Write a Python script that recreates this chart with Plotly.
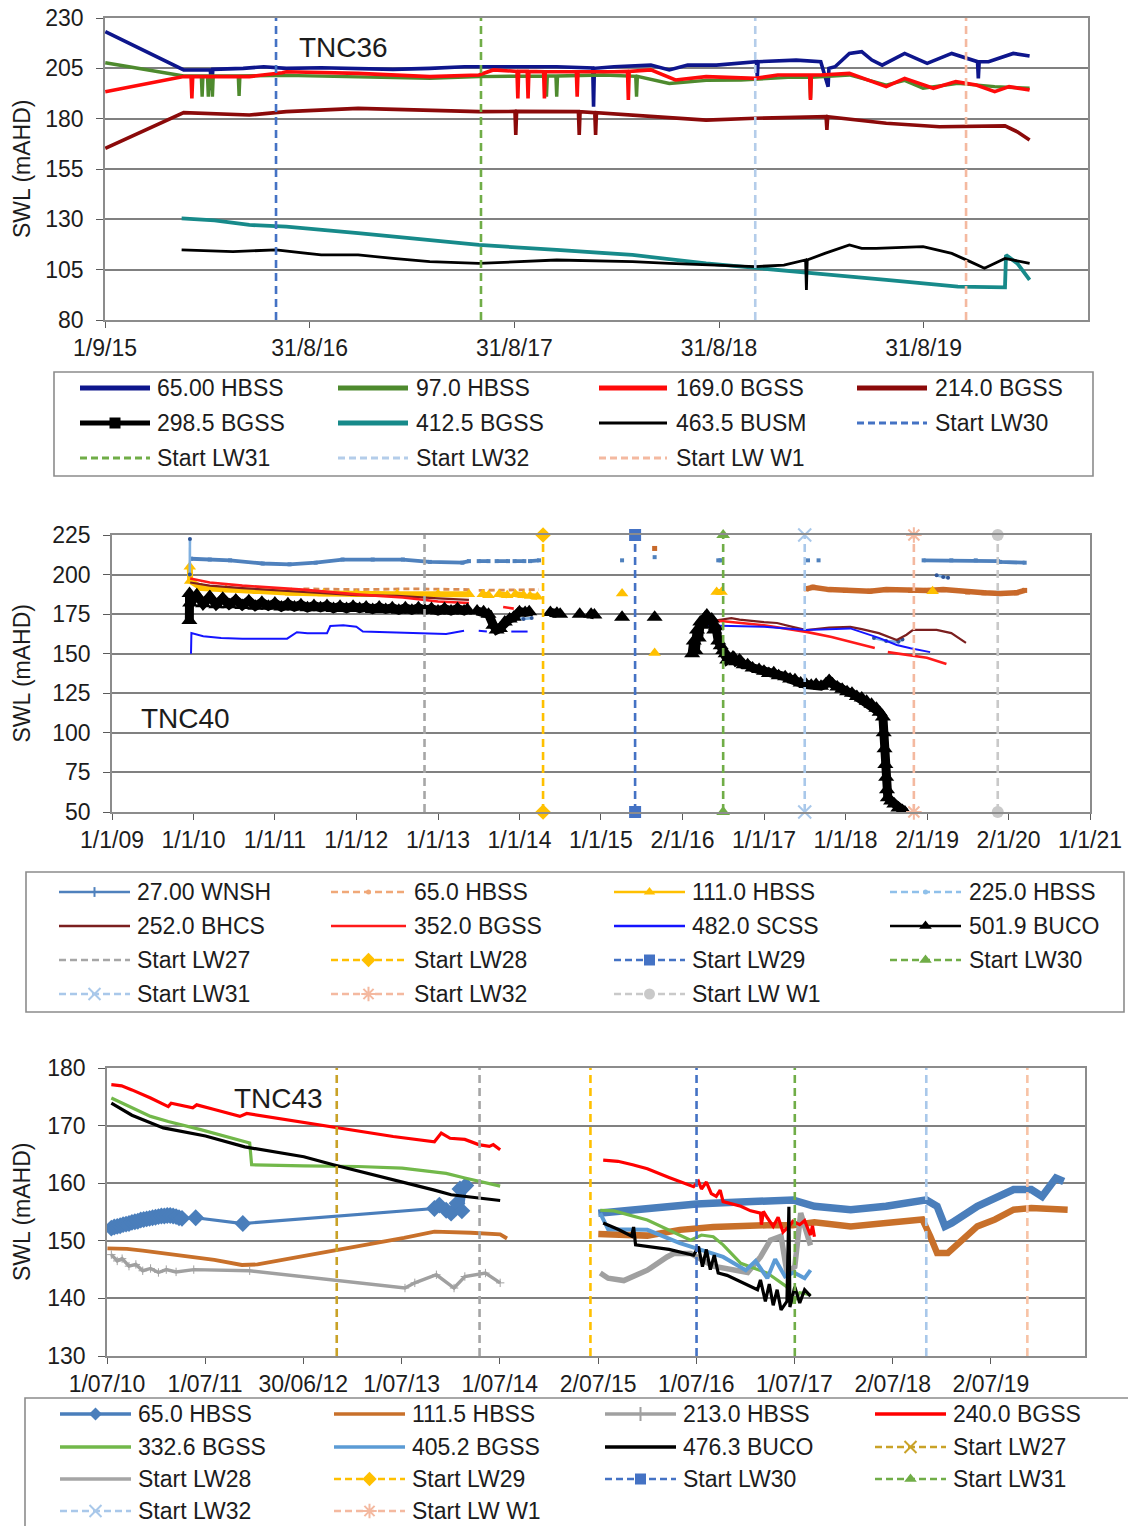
import plotly.graph_objects as go
from datetime import datetime

W, H = 1128, 1526
FONT = "Liberation Sans, Arial, Helvetica, sans-serif"
INK = "#1c1c1c"
GRID = "#808080"
FRAME = "#8c8c8c"
TICK = "#5a5a5a"
LW_DASH = "8px,5px"

# ---------------------------------------------------------------------------
# Longwall start dates (decimal years)
# ---------------------------------------------------------------------------
LW27, LW28, LW29, LW30, LW31, LW32, LWW1 = 2012.835, 2014.29, 2015.42, 2016.50, 2017.50, 2018.84, 2019.87

# ---------------------------------------------------------------------------
# TNC36 : (decimal year, SWL mAHD)
# ---------------------------------------------------------------------------
TNC36_XTICKS = ["2015-09-01", "2016-08-31", "2017-08-31", "2018-08-31", "2019-08-31"]
TNC36_XLABELS = ["1/9/15", "31/8/16", "31/8/17", "31/8/18", "31/8/19"]

TNC36_HBSS65 = [(2015.667, 223.2), (2016.05, 204.2), (2016.18, 204.2), (2016.186, 194.2), (2016.192, 204.5),
                (2016.34, 205.0), (2016.44, 205.8), (2016.55, 205.0), (2016.72, 205.3), (2016.90, 205.0),
                (2017.07, 204.5), (2017.25, 205.0), (2017.42, 205.8), (2017.60, 205.8), (2017.87, 205.8),
                (2018.046, 205.2), (2018.05, 186.0), (2018.054, 205.0), (2018.15, 205.8), (2018.33, 206.6),
                (2018.42, 204.2), (2018.51, 206.6), (2018.65, 206.6), (2018.846, 208.3), (2018.85, 200.9),
                (2018.854, 208.3), (2019.04, 209.1), (2019.16, 208.3), (2019.196, 195.9), (2019.20, 205.0),
                (2019.23, 205.8), (2019.30, 212.4), (2019.36, 213.3), (2019.41, 209.1), (2019.46, 206.6),
                (2019.57, 212.4), (2019.68, 207.5), (2019.80, 212.4), (2019.87, 210.0), (2019.926, 208.3),
                (2019.93, 200.0), (2019.934, 208.3), (2019.98, 208.3), (2020.10, 212.4), (2020.18, 211.1)]

TNC36_HBSS97 = [(2015.667, 207.8), (2016.05, 201.2), (2016.136, 201.2), (2016.14, 190.9), (2016.144, 201.2),
                (2016.166, 201.2), (2016.17, 190.9), (2016.174, 201.2), (2016.186, 201.2), (2016.19, 190.9),
                (2016.194, 201.2), (2016.316, 201.2), (2016.32, 191.3), (2016.324, 201.2), (2016.55, 201.5),
                (2016.90, 200.9), (2017.25, 200.0), (2017.49, 200.9), (2017.816, 201.2), (2017.82, 190.9),
                (2017.824, 201.2), (2017.866, 201.2), (2017.87, 190.9), (2017.874, 201.2), (2018.10, 201.7),
                (2018.256, 201.0), (2018.26, 190.9), (2018.264, 201.0), (2018.42, 197.5), (2018.60, 199.0),
                (2018.77, 199.2), (2019.00, 200.5), (2019.106, 200.5), (2019.11, 190.1), (2019.114, 200.5),
                (2019.30, 201.7), (2019.48, 196.7), (2019.57, 199.0), (2019.66, 195.1), (2019.83, 197.5),
                (2020.01, 195.9), (2020.18, 195.1)]

TNC36_BGSS169 = [(2015.667, 193.4), (2016.05, 200.9), (2016.086, 200.9), (2016.09, 190.1), (2016.094, 200.9),
                 (2016.37, 200.9), (2016.53, 202.8), (2016.55, 203.3), (2016.90, 202.5), (2017.25, 200.9),
                 (2017.49, 201.7), (2017.56, 204.2), (2017.676, 203.5), (2017.68, 190.1), (2017.684, 203.5),
                 (2017.726, 203.5), (2017.73, 190.1), (2017.734, 203.5), (2017.806, 203.3), (2017.81, 190.1),
                 (2017.814, 203.3), (2017.87, 203.3), (2017.966, 203.3), (2017.97, 190.9), (2017.974, 203.3),
                 (2018.15, 203.3), (2018.216, 203.5), (2018.22, 189.3), (2018.224, 203.5), (2018.33, 204.2),
                 (2018.45, 199.2), (2018.60, 200.9), (2018.84, 200.0), (2018.95, 201.7), (2019.106, 201.7),
                 (2019.11, 189.3), (2019.114, 201.7), (2019.16, 201.7), (2019.30, 202.5), (2019.48, 195.9),
                 (2019.57, 200.0), (2019.71, 195.1), (2019.82, 198.4), (2019.92, 196.7), (2020.01, 193.4),
                 (2020.08, 195.9), (2020.18, 194.2)]

TNC36_BGSS214 = [(2015.667, 165.3), (2016.05, 183.0), (2016.37, 181.8), (2016.55, 183.5), (2016.90, 185.1),
                 (2017.25, 184.3), (2017.49, 183.5), (2017.666, 183.6), (2017.67, 171.9), (2017.674, 183.6),
                 (2017.87, 183.8), (2017.976, 183.5), (2017.98, 171.9), (2017.984, 183.5), (2018.056, 183.0),
                 (2018.06, 171.9), (2018.064, 183.0), (2018.24, 181.8), (2018.60, 179.3), (2018.84, 180.2),
                 (2019.186, 181.0), (2019.19, 174.4), (2019.194, 181.0), (2019.48, 177.7), (2019.74, 176.0),
                 (2020.06, 176.4), (2020.12, 173.5), (2020.18, 169.4)]

TNC36_BGSS412 = [(2016.04, 130.5), (2016.20, 129.5), (2016.37, 127.2), (2016.55, 126.4), (2016.90, 123.1),
                 (2017.25, 119.7), (2017.49, 117.3), (2017.87, 114.8), (2018.24, 112.3), (2018.60, 108.1),
                 (2018.84, 105.7), (2019.13, 103.2), (2019.48, 99.9), (2019.83, 96.6), (2020.06, 96.2),
                 (2020.065, 112.3), (2020.12, 108.1), (2020.18, 99.9)]

TNC36_BUSM463 = [(2016.04, 114.8), (2016.29, 114.0), (2016.50, 114.8), (2016.72, 112.3), (2016.90, 112.3),
                 (2017.00, 111.5), (2017.07, 110.6), (2017.25, 109.0), (2017.49, 108.1), (2017.87, 109.8),
                 (2018.24, 109.0), (2018.42, 108.1), (2018.60, 107.3), (2018.84, 106.5), (2018.98, 107.3),
                 (2019.086, 109.8), (2019.09, 94.9), (2019.094, 109.8), (2019.18, 113.1), (2019.30, 117.3),
                 (2019.36, 115.6), (2019.43, 115.6), (2019.66, 116.4), (2019.80, 113.1), (2019.89, 109.0),
                 (2019.96, 105.7), (2020.06, 110.6), (2020.18, 108.1)]

# ---------------------------------------------------------------------------
# TNC40
# ---------------------------------------------------------------------------
TNC40_XTICKS = ["2009-01-01", "2010-01-01", "2011-01-01", "2012-01-01", "2013-01-01", "2014-01-01", "2015-01-01",
                "2016-01-02", "2017-01-01", "2018-01-01", "2019-01-02", "2020-01-02", "2021-01-01"]
TNC40_XLABELS = ["1/1/09", "1/1/10", "1/1/11", "1/1/12", "1/1/13", "1/1/14", "1/1/15",
                 "2/1/16", "1/1/17", "1/1/18", "2/1/19", "2/1/20", "1/1/21"]

TNC40_WNSH27 = [(2009.97, 210.0), (2010.2, 209.5), (2010.45, 209.0), (2010.85, 207.0), (2011.18, 206.5),
                (2011.5, 207.5), (2011.83, 209.5), (2012.2, 209.5), (2012.57, 209.5), (2012.9, 208.0), (2013.3, 207.5),
                (2013.38, 208.5), None,
                (2013.5, 208.5), (2013.62, 208.5), None, (2013.72, 208.5), (2013.86, 208.5), None,
                (2013.94, 208.5), (2014.06, 208.5), None, (2014.13, 208.5), (2014.24, 209.0), None,
                (2015.26, 209.0), None, (2015.66, 211.0), None, (2016.44, 209.0), (2016.48, 209.0), None,
                (2017.54, 209.0), None, (2017.67, 209.0), None,
                (2018.96, 209.0), (2019.3, 209.0), (2019.6, 209.0), (2019.87, 208.5), (2019.9, 208.0), (2020.2, 207.5)]

TNC40_HBSS65_EARLY = [(2011.35, 191.0), (2012.0, 190.5), (2012.7, 191.0), (2013.4, 190.5), None,
                      (2013.5, 190.0), (2014.24, 190.5)]
TNC40_HBSS65_LATE = [(2015.66, 216.5), None,
                     (2017.52, 191.0), (2017.6, 192.0), (2017.8, 190.5), (2018.0, 190.0), (2018.3, 189.5),
                     (2018.5, 190.5), (2018.8, 190.0), (2019.0, 190.0), (2019.2, 190.5), (2019.5, 189.0),
                     (2019.7, 188.5), (2019.9, 188.0), (2020.1, 188.5), (2020.2, 190.0)]

TNC40_HBSS111 = [(2009.955, 205.0), (2009.96, 196.0), (2010.1, 191.5), (2010.4, 190.5), (2010.8, 189.5),
                 (2011.2, 188.5), (2011.6, 188.0), (2012.0, 187.5), (2012.5, 187.5), (2013.0, 187.5),
                 (2013.38, 187.5), None, (2013.55, 187.5), (2013.62, 187.0), None, (2013.75, 187.5),
                 (2013.85, 187.0), None, (2013.95, 187.5), (2014.05, 187.0), None, (2014.13, 186.5),
                 (2014.22, 186.0), None, (2015.26, 188.0), None, (2015.66, 150.5), None,
                 (2016.42, 189.0), (2016.48, 189.0), None, (2019.07, 189.5)]

TNC40_HBSS225 = [(2009.955, 200.0), (2009.957, 222.5), None, (2013.95, 172.5), (2014.05, 172.0),
                 (2014.15, 172.5), None, (2018.35, 160.0), (2018.5, 158.0), (2018.65, 157.5), (2018.7, 159.0), None,
                 (2019.12, 199.5), (2019.2, 198.5), (2019.26, 198.0)]

TNC40_BHCS252 = [(2009.96, 195.0), (2010.2, 193.0), (2010.6, 191.5), (2011.0, 190.0), (2011.5, 188.5),
                 (2012.0, 187.0), (2012.5, 186.5), (2013.0, 185.0), (2013.38, 184.0), None,
                 (2016.19, 171.0), (2016.4, 171.0), (2016.6, 172.5), (2016.7, 171.5), (2017.0, 170.0),
                 (2017.16, 169.4), (2017.35, 167.0), (2017.52, 165.0), (2017.8, 166.5), (2018.06, 167.0),
                 (2018.2, 165.5), (2018.41, 163.0), (2018.63, 158.7), (2018.75, 162.0), (2018.83, 165.0),
                 (2019.12, 165.0), (2019.3, 163.0), (2019.48, 156.8)]

TNC40_BGSS352 = [(2009.96, 197.5), (2010.2, 195.0), (2010.6, 193.0), (2011.0, 191.5), (2011.34, 190.5),
                 (2012.0, 187.5), (2012.57, 185.5), (2013.0, 183.0), (2013.38, 182.0), None,
                 (2013.8, 179.5), (2013.93, 178.5), None,
                 (2016.19, 171.0), (2016.5, 170.5), (2017.0, 168.0), (2017.52, 163.8), (2017.83, 160.6),
                 (2018.1, 157.0), (2018.36, 153.6), None,
                 (2018.52, 151.0), (2018.8, 149.0), (2019.0, 147.5), (2019.24, 143.5)]

TNC40_SCSS482 = [(2009.97, 150.0), (2009.975, 163.0), (2010.12, 161.0), (2010.34, 160.0), (2010.6, 159.5),
                 (2011.0, 159.3), (2011.15, 159.5), (2011.27, 163.6), (2011.4, 163.0), (2011.64, 163.0),
                 (2011.68, 167.5), (2011.84, 168.0), (2012.0, 167.0), (2012.08, 164.0), (2012.37, 163.5),
                 (2012.89, 162.5), (2013.1, 162.5), (2013.32, 164.5), None, (2013.5, 164.5), (2013.6, 164.0), None,
                 (2013.9, 164.0), (2014.1, 164.0), None, (2014.91, 164.0), None,
                 (2016.19, 168.0), (2016.6, 167.5), (2017.0, 167.0), (2017.52, 165.0), (2018.06, 166.0),
                 (2018.41, 160.0), (2018.63, 155.5), (2018.8, 153.5), (2019.04, 151.0)]

TNC40_BUCO501 = [(2009.95, 171.0), (2009.952, 188.0), (2009.96, 182.0),
                 (2010.04, 187.0), (2010.12, 181.5), (2010.20, 186.0), (2010.28, 181.0), (2010.36, 185.0),
                 (2010.44, 181.0), (2010.52, 184.0), (2010.60, 180.5), (2010.68, 183.5), (2010.76, 180.0),
                 (2010.84, 182.5), (2010.92, 180.0), (2011.00, 182.0), (2011.08, 179.5), (2011.16, 181.5),
                 (2011.24, 179.5), (2011.32, 181.0), (2011.40, 179.0), (2011.48, 180.5), (2011.56, 179.0),
                 (2011.64, 180.5), (2011.72, 178.5), (2011.80, 180.0), (2011.88, 178.5), (2011.96, 180.0),
                 (2012.04, 178.5), (2012.12, 179.5), (2012.20, 178.0), (2012.28, 179.5), (2012.36, 178.0),
                 (2012.44, 179.0), (2012.52, 177.5), (2012.60, 179.0), (2012.68, 177.5), (2012.76, 179.0),
                 (2012.84, 177.5), (2012.92, 178.5), (2013.00, 177.0), (2013.08, 178.5), (2013.16, 177.0),
                 (2013.24, 178.5), (2013.32, 177.0), (2013.36, 178.0), None,
                 (2013.48, 177.0), (2013.56, 176.5), (2013.62, 175.0), (2013.68, 168.0), (2013.72, 165.0),
                 (2013.76, 166.0), (2013.82, 170.0), (2013.88, 172.0), (2013.93, 173.0), (2014.0, 176.5),
                 (2014.07, 176.0), (2014.12, 176.5), None, (2014.38, 176.0), (2014.46, 175.5), None,
                 (2014.5, 175.0), None, (2014.74, 175.0), None,
                 (2014.88, 175.0), (2014.92, 174.5), None, (2015.26, 173.0), None, (2015.66, 173.0), None,
                 (2016.12, 150.0), (2016.14, 158.0), (2016.16, 152.0), (2016.18, 165.0), (2016.2, 160.0),
                 (2016.22, 170.0), (2016.25, 168.0), (2016.28, 173.0), (2016.3, 174.5), (2016.33, 170.0),
                 (2016.36, 172.0), (2016.39, 165.0), (2016.41, 167.0), (2016.44, 158.0), (2016.47, 155.0),
                 (2016.5, 152.0), (2016.53, 150.0), (2016.55, 146.0), (2016.58, 147.0), (2016.62, 148.0),
                 (2016.66, 145.0), (2016.7, 146.0), (2016.75, 143.0), (2016.8, 143.0), (2016.86, 141.0),
                 (2016.94, 140.0), (2017.0, 139.0), (2017.06, 137.5), (2017.12, 138.0), (2017.18, 136.0),
                 (2017.26, 135.5), (2017.32, 134.0), (2017.38, 133.5), (2017.45, 131.5), (2017.52, 130.5),
                 (2017.58, 130.0), (2017.64, 130.5), (2017.7, 129.5), (2017.76, 131.0), (2017.8, 133.0),
                 (2017.84, 131.0), (2017.9, 129.0), (2017.96, 127.5), (2018.02, 126.0), (2018.08, 125.0),
                 (2018.14, 123.0), (2018.2, 122.0), (2018.26, 120.0), (2018.32, 118.0), (2018.38, 115.5),
                 (2018.42, 113.0), (2018.46, 110.0), (2018.47, 100.0), (2018.48, 90.0), (2018.49, 80.0),
                 (2018.5, 72.0), (2018.51, 64.0), (2018.52, 59.0), (2018.56, 57.0), (2018.6, 55.0),
                 (2018.65, 52.5), (2018.7, 51.0), (2018.73, 50.0)]

# ---------------------------------------------------------------------------
# TNC43
# ---------------------------------------------------------------------------
TNC43_XTICKS = ["2010-07-01", "2011-07-01", "2012-06-30", "2013-07-01", "2014-07-01",
                "2015-07-02", "2016-07-01", "2017-07-01", "2018-07-02", "2019-07-02"]
TNC43_XLABELS = ["1/07/10", "1/07/11", "30/06/12", "1/07/13", "1/07/14",
                 "2/07/15", "1/07/16", "1/07/17", "2/07/18", "2/07/19"]

TNC43_HBSS65_A = [(2010.54, 152.2), (2010.57, 152.4), (2010.60, 152.5), (2010.63, 152.6), (2010.66, 152.8),
                  (2010.69, 152.9), (2010.72, 153.0), (2010.75, 153.2), (2010.78, 153.3), (2010.81, 153.4),
                  (2010.84, 153.6), (2010.87, 153.7), (2010.90, 153.8), (2010.93, 153.9), (2010.96, 154.0),
                  (2010.99, 154.1), (2011.02, 154.2), (2011.05, 154.3), (2011.08, 154.3), (2011.11, 154.4),
                  (2011.14, 154.4), (2011.17, 154.3), (2011.20, 154.2), (2011.23, 154.0), (2011.26, 153.9),
                  (2011.40, 154.0), (2011.88, 153.0), (2013.83, 155.6), (2013.88, 156.2), (2013.95, 155.3),
                  (2014.00, 154.8), (2014.06, 156.5), (2014.09, 159.0), (2014.11, 155.2), (2014.15, 159.6)]
TNC43_HBSS65_B = [(2015.5, 154.8), (2015.85, 155.4), (2016.22, 156.0), (2016.5, 156.4), (2016.77, 156.6),
                  (2017.14, 156.9), (2017.48, 157.1), (2017.7, 156.0), (2018.07, 155.4), (2018.43, 156.0),
                  (2018.84, 157.1), (2018.95, 156.0), (2019.03, 152.5), (2019.1, 153.1), (2019.36, 156.0),
                  (2019.73, 158.9), (2019.91, 158.9), (2020.02, 157.7), (2020.09, 159.5), (2020.16, 160.9),
                  (2020.24, 160.3)]

TNC43_HBSS111_A = [(2010.5, 148.7), (2010.7, 148.6), (2010.86, 148.3), (2011.05, 147.9), (2011.59, 146.7),
                   (2011.87, 145.8), (2012.03, 145.9), (2013.52, 150.5), (2013.83, 151.6), (2014.2, 151.4),
                   (2014.5, 151.1), (2014.57, 150.4)]
TNC43_HBSS111_B = [(2015.5, 151.2), (2015.85, 151.0), (2016.0, 150.9), (2016.33, 151.9), (2016.67, 152.4),
                   (2017.22, 152.7), (2017.48, 152.7), (2017.7, 153.2), (2018.07, 152.5), (2018.43, 153.1),
                   (2018.8, 153.7), (2018.88, 150.8), (2018.95, 147.9), (2019.06, 147.9), (2019.21, 150.2),
                   (2019.36, 152.5), (2019.54, 153.7), (2019.73, 155.4), (2019.91, 155.7), (2020.28, 155.4)]

TNC43_HBSS213_A = [(2010.54, 147.6), (2010.6, 146.5), (2010.65, 146.9), (2010.72, 145.6), (2010.79, 145.9),
                   (2010.86, 144.8), (2010.94, 145.2), (2011.02, 144.5), (2011.1, 145.0), (2011.2, 144.6),
                   (2011.38, 145.0), (2011.95, 144.8), (2013.53, 141.8), (2013.63, 142.7), (2013.85, 144.1),
                   (2014.03, 141.8), (2014.14, 143.8), (2014.35, 144.4), (2014.5, 142.7)]
TNC43_HBSS213_B = [(2015.52, 144.4), (2015.6, 143.5), (2015.76, 143.1), (2016.0, 144.9), (2016.2, 147.2),
                   (2016.27, 147.8), (2016.44, 147.8), (2016.67, 145.6), (2017.02, 144.5), (2017.15, 147.2),
                   (2017.25, 150.1), (2017.36, 150.8), (2017.42, 144.5), (2017.5, 145.5), (2017.56, 154.8),
                   (2017.66, 149.2)]

TNC43_BGSS240 = [(2010.54, 177.1), (2010.645, 176.9), (2010.75, 176.2), (2010.94, 174.8), (2011.12, 173.3),
                 (2011.15, 173.9), (2011.37, 173.1), (2011.41, 173.6), (2011.59, 172.8), (2011.85, 171.6),
                 (2011.92, 172.1), (2012.32, 171.0), (2012.86, 169.6), (2013.41, 168.1), (2013.83, 167.2),
                 (2013.9, 168.7), (2013.99, 167.8), (2014.14, 167.6), (2014.28, 166.7), (2014.39, 166.4),
                 (2014.43, 166.7), (2014.5, 165.8), None,
                 (2015.55, 164.0), (2015.7, 163.8), (2015.85, 163.2), (2016.0, 162.5), (2016.22, 161.0),
                 (2016.47, 159.4), (2016.52, 160.3), (2016.55, 159.0), (2016.6, 160.2), (2016.65, 158.2),
                 (2016.7, 157.7), (2016.74, 158.8), (2016.77, 156.8), (2016.95, 156.0), (2017.05, 155.2),
                 (2017.15, 154.8), (2017.16, 152.8), (2017.18, 155.1), (2017.22, 154.0), (2017.28, 152.5),
                 (2017.33, 154.1), (2017.38, 151.5), (2017.44, 152.5), (2017.48, 153.4), (2017.55, 152.8),
                 (2017.6, 153.5), (2017.66, 151.0), (2017.68, 152.6), (2017.7, 150.7)]

TNC43_BGSS332 = [(2010.54, 174.8), (2010.7, 173.5), (2010.94, 171.6), (2011.12, 170.7), (2011.45, 169.3),
                 (2011.95, 167.0), (2011.97, 163.2), (2012.5, 163.0), (2013.05, 162.9), (2013.5, 162.6),
                 (2013.87, 161.8), (2013.95, 161.7), (2014.14, 160.9), (2014.5, 159.5), None,
                 (2015.52, 155.3), (2015.66, 155.2), (2016.0, 153.6), (2016.44, 150.1), (2016.55, 151.0),
                 (2016.67, 150.7), (2016.77, 149.3), (2016.95, 146.1), (2017.22, 144.4), (2017.42, 142.0),
                 (2017.48, 139.2), (2017.55, 141.0), (2017.59, 140.9), (2017.66, 140.6)]

TNC43_BGSS405 = [(2015.52, 154.8), (2015.6, 152.0), (2016.0, 151.9), (2016.33, 149.6), (2016.77, 147.2),
                 (2017.0, 144.9), (2017.1, 146.5), (2017.22, 143.5), (2017.3, 146.8), (2017.4, 143.8),
                 (2017.49, 144.5), (2017.6, 143.5), (2017.66, 144.9)]

TNC43_BUCO476 = [(2010.54, 173.9), (2010.75, 171.8), (2011.07, 169.6), (2011.5, 168.2), (2011.9, 166.3),
                 (2012.5, 164.6), (2012.8, 163.2), (2013.5, 160.3), (2013.83, 158.8), (2014.0, 158.0),
                 (2014.5, 157.0), None,
                 (2015.55, 153.1), (2015.7, 152.0), (2015.84, 150.8), (2015.86, 152.4), (2015.88, 149.3),
                 (2016.22, 148.5), (2016.47, 147.5), (2016.52, 149.0), (2016.56, 145.5), (2016.6, 148.5),
                 (2016.64, 145.0), (2016.68, 147.5), (2016.72, 144.4), (2016.81, 144.0), (2017.12, 141.5),
                 (2017.15, 143.2), (2017.2, 139.5), (2017.24, 142.5), (2017.28, 138.8), (2017.32, 141.5),
                 (2017.36, 138.0), (2017.42, 139.5), (2017.44, 155.9), (2017.45, 138.5), (2017.5, 142.0),
                 (2017.55, 139.2), (2017.6, 141.5), (2017.66, 140.4)]

# ---------------------------------------------------------------------------
# Legend texts
# ---------------------------------------------------------------------------
LEG1_LABELS = ["65.00 HBSS", "97.0 HBSS", "169.0 BGSS", "214.0 BGSS",
               "298.5 BGSS", "412.5 BGSS", "463.5 BUSM", "Start LW30",
               "Start LW31", "Start LW32", "Start LW W1"]
LEG2_LABELS = ["27.00 WNSH", "65.0 HBSS", "111.0 HBSS", "225.0 HBSS",
               "252.0 BHCS", "352.0 BGSS", "482.0 SCSS", "501.9 BUCO",
               "Start LW27", "Start LW28", "Start LW29", "Start LW30",
               "Start LW31", "Start LW32", "Start LW W1"]
LEG3_LABELS = ["65.0 HBSS", "111.5 HBSS", "213.0 HBSS", "240.0 BGSS",
               "332.6 BGSS", "405.2 BGSS", "476.3 BUCO", "Start LW27",
               "Start LW28", "Start LW29", "Start LW30", "Start LW31",
               "Start LW32", "Start LW W1"]

# ---------------------------------------------------------------------------
# Layout geometry (pixels) and helpers
# ---------------------------------------------------------------------------
P1_BOX = (105, 18, 1088, 320)
P2_BOX = (112, 535, 1090, 812)
P3_BOX = (107, 1068, 1085, 1356)


def px(x):
    return x / W


def py(y):
    return 1 - y / H


def dec_to_date(y):
    yr = int(y)
    start = datetime(yr, 1, 1)
    end = datetime(yr + 1, 1, 1)
    return (start + (end - start) * (y - yr)).strftime("%Y-%m-%d %H:%M")


def xy(pairs):
    xs, ys = [], []
    for p in pairs:
        if p is None:
            xs.append(None)
            ys.append(None)
        else:
            xs.append(dec_to_date(p[0]))
            ys.append(p[1])
    return xs, ys


fig = go.Figure()


def series(pairs, ax, color, width, dash="solid", symbol=None, msize=0, mcolor=None):
    xs, ys = xy(pairs)
    kw = dict(x=xs, y=ys, xaxis="x" + ax, yaxis="y" + ax, showlegend=False, hoverinfo="skip",
              line=dict(color=color, width=width, dash=dash), mode="lines")
    if symbol:
        kw["mode"] = "lines+markers"
        kw["marker"] = dict(symbol=symbol, size=msize, color=mcolor or color, line=dict(width=0))
    fig.add_trace(go.Scatter(**kw))


def start_line(date, ax, yr, color, width=2.6, symbol=None, msize=0):
    d = dec_to_date(date)
    kw = dict(x=[d, d], y=list(yr), xaxis="x" + ax, yaxis="y" + ax, mode="lines", showlegend=False,
              hoverinfo="skip", line=dict(color=color, width=width, dash=LW_DASH), cliponaxis=False)
    if symbol:
        kw["mode"] = "lines+markers"
        mk = dict(symbol=symbol, size=msize, color=color)
        if symbol.endswith("open"):
            mk["line"] = dict(color=color, width=2)
        kw["marker"] = mk
    fig.add_trace(go.Scatter(**kw))


# ---------------------------------------------------------------------------
# TNC36 traces
# ---------------------------------------------------------------------------
A1, Y1 = "", (80, 230)
series(TNC36_HBSS65, A1, "#0e168c", 3.6)
series(TNC36_HBSS97, A1, "#4e8a2e", 3.4)
series(TNC36_BGSS169, A1, "#ff0a0a", 3.6)
series(TNC36_BGSS214, A1, "#8b0a0a", 3.6)
series(TNC36_BGSS412, A1, "#178a8a", 3.8)
series(TNC36_BUSM463, A1, "#000000", 2.8)
start_line(LW30, A1, Y1, "#4472c4")
start_line(LW31, A1, Y1, "#70ad47")
start_line(LW32, A1, Y1, "#b4cdea")
start_line(LWW1, A1, Y1, "#f4b9a0")

# ---------------------------------------------------------------------------
# TNC40 traces
# ---------------------------------------------------------------------------
A2, Y2 = "2", (50, 225)
series(TNC40_WNSH27, A2, "#4f81bd", 3.8, symbol="square", msize=4)
series(TNC40_HBSS65_EARLY, A2, "#d98a52", 2.8, dash="6px,4px")
series(TNC40_HBSS65_LATE, A2, "#c8692a", 5.5, symbol="square", msize=5)
series(TNC40_HBSS111, A2, "#ffc000", 6.0, symbol="triangle-up", msize=11)
series(TNC40_HBSS225, A2, "#7fb0e0", 2.6, symbol="circle", msize=4, mcolor="#2f5597")
series(TNC40_BHCS252, A2, "#7b1f1f", 2.2)
series(TNC40_BGSS352, A2, "#ff1a1a", 2.6)
series(TNC40_SCSS482, A2, "#1414ff", 2.0)
series(TNC40_BUCO501, A2, "#000000", 9.0, symbol="triangle-up", msize=14)
start_line(LW27, A2, Y2, "#a6a6a6")
start_line(LW28, A2, Y2, "#ffc000", symbol="diamond", msize=12)
start_line(LW29, A2, Y2, "#4472c4", symbol="square", msize=12)
start_line(LW30, A2, Y2, "#70ad47", symbol="triangle-up", msize=12)
start_line(LW31, A2, Y2, "#a9c8ea", symbol="x-thin-open", msize=13)
start_line(LW32, A2, Y2, "#f4b9a0", symbol="asterisk-open", msize=13)
start_line(LWW1, A2, Y2, "#c9c9c9", symbol="circle", msize=12)

# ---------------------------------------------------------------------------
# TNC43 traces
# ---------------------------------------------------------------------------
A3, Y3 = "3", (130, 180)
series(TNC43_HBSS65_A, A3, "#4a7ebb", 3.2, symbol="diamond", msize=13)
series(TNC43_HBSS65_B, A3, "#4a7ebb", 7.5)
series(TNC43_HBSS111_A, A3, "#c8702a", 3.8)
series(TNC43_HBSS111_B, A3, "#c8702a", 6.5)
series(TNC43_HBSS213_A, A3, "#a0a0a0", 3.4, symbol="cross-thin-open", msize=6)
series(TNC43_HBSS213_B, A3, "#a0a0a0", 5.5)
series(TNC43_BGSS240, A3, "#ff0000", 3.2)
series(TNC43_BGSS332, A3, "#72b84a", 3.2)
series(TNC43_BGSS405, A3, "#5b9bd5", 4.0)
series(TNC43_BUCO476, A3, "#000000", 3.2)
start_line(LW27, A3, Y3, "#c9a227")
start_line(LW28, A3, Y3, "#a5a5a5")
start_line(LW29, A3, Y3, "#ffc000")
start_line(LW30, A3, Y3, "#4472c4")
start_line(LW31, A3, Y3, "#70ad47")
start_line(LW32, A3, Y3, "#a9c8ea")
start_line(LWW1, A3, Y3, "#f8c3a6")

# ---------------------------------------------------------------------------
# Legends drawn on a full-page overlay axis (x4 / y4, pixel units)
# ---------------------------------------------------------------------------
annotations = []
shapes = []
D = "7px,4px"
LEG1_STYLE = [("#0e168c", 5, "solid", None, 0), ("#4e8a2e", 5, "solid", None, 0), ("#ff0a0a", 5, "solid", None, 0),
              ("#8b0a0a", 5, "solid", None, 0), ("#000000", 5, "solid", "square", 11), ("#178a8a", 5, "solid", None, 0),
              ("#000000", 3, "solid", None, 0), ("#4472c4", 3, D, None, 0), ("#70ad47", 3, D, None, 0),
              ("#b4cdea", 3, D, None, 0), ("#f4b9a0", 3, D, None, 0)]
LEG2_STYLE = [("#4f81bd", 2.5, "solid", "line-ns-open", 7), ("#f0a878", 2.5, D, "circle", 5),
              ("#ffc000", 2.5, "solid", "triangle-up", 10), ("#8fc0ea", 2.5, D, "circle", 5),
              ("#7b1f1f", 2.5, "solid", None, 0), ("#ff1a1a", 2.5, "solid", None, 0), ("#1414ff", 2.5, "solid", None, 0),
              ("#000000", 2.5, "solid", "triangle-up", 11), ("#a6a6a6", 2.5, D, None, 0),
              ("#ffc000", 2.5, D, "diamond", 11), ("#4472c4", 2.5, D, "square", 11), ("#70ad47", 2.5, D, "triangle-up", 11),
              ("#a9c8ea", 2.5, D, "x-thin-open", 12), ("#f4b9a0", 2.5, D, "asterisk-open", 12),
              ("#c9c9c9", 2.5, D, "circle", 11)]
LEG3_STYLE = [("#4a7ebb", 3.5, "solid", "diamond", 10), ("#c8702a", 3.5, "solid", None, 0),
              ("#a0a0a0", 3.5, "solid", "cross-thin-open", 10), ("#ff0000", 3.5, "solid", None, 0),
              ("#72b84a", 3.5, "solid", None, 0), ("#5b9bd5", 3.5, "solid", None, 0), ("#000000", 3.5, "solid", None, 0),
              ("#c9a227", 2.5, D, "x-thin-open", 12), ("#a5a5a5", 3.5, "solid", None, 0),
              ("#ffc000", 2.5, D, "diamond", 11), ("#4472c4", 2.5, D, "square", 11), ("#70ad47", 2.5, D, "triangle-up", 11),
              ("#a9c8ea", 2.5, D, "x-thin-open", 12), ("#f4b9a0", 2.5, D, "asterisk-open", 12)]


def legend_block(labels, styles, cols, rows, box):
    x0b, y0b, x1b, y1b = box
    shapes.append(dict(type="rect", xref="paper", yref="paper", x0=px(x0b), x1=px(x1b), y0=py(y1b), y1=py(y0b),
                       line=dict(color=FRAME, width=1.6), layer="above"))
    for i, (lab, st) in enumerate(zip(labels, styles)):
        r, c = divmod(i, 4)
        xa, xb, xt = cols[c]
        yy = rows[r]
        color, width, dash, sym, msz = st
        fig.add_trace(go.Scatter(x=[xa, xb], y=[yy, yy], mode="lines", xaxis="x4", yaxis="y4",
                                 line=dict(color=color, width=width, dash=dash), showlegend=False,
                                 hoverinfo="skip", cliponaxis=False))
        if sym:
            mk = dict(symbol=sym, size=msz, color=color)
            if sym.endswith("open"):
                mk["line"] = dict(color=color, width=2)
            fig.add_trace(go.Scatter(x=[(xa + xb) / 2], y=[yy], mode="markers", xaxis="x4", yaxis="y4",
                                     marker=mk, showlegend=False, hoverinfo="skip", cliponaxis=False))
        annotations.append(dict(x=px(xt), y=py(yy), xref="paper", yref="paper", text=lab, showarrow=False,
                                xanchor="left", yanchor="middle", font=dict(family=FONT, size=23, color=INK)))


legend_block(LEG1_LABELS, LEG1_STYLE, [(80, 150, 155), (338, 408, 414), (599, 667, 674), (857, 927, 933)],
             [388, 423, 458], (54, 372, 1093, 476))
legend_block(LEG2_LABELS, LEG2_STYLE, [(59, 130, 135), (331, 406, 412), (614, 685, 690), (890, 961, 967)],
             [892, 926, 960, 994], (26, 872, 1124, 1012))
legend_block(LEG3_LABELS, LEG3_STYLE, [(60, 131, 136), (334, 405, 410), (605, 676, 681), (875, 946, 951)],
             [1414, 1447, 1479, 1511], (25, 1398, 1200, 1600))

# Panel names and y titles
for name, (xn, yn), box in [("TNC36", (343, 47), P1_BOX), ("TNC40", (185, 718), P2_BOX), ("TNC43", (278, 1098), P3_BOX)]:
    annotations.append(dict(x=px(xn), y=py(yn), xref="paper", yref="paper", text=name, showarrow=False,
                            xanchor="center", yanchor="middle", font=dict(family=FONT, size=28, color=INK)))
    annotations.append(dict(x=px(22), y=py((box[1] + box[3]) / 2), xref="paper", yref="paper",
                            text="SWL (mAHD)", textangle=-90, showarrow=False, xanchor="center", yanchor="middle",
                            font=dict(family=FONT, size=23, color=INK)))


def xaxis_cfg(box, rng, ticks, labels, anchor):
    return dict(domain=[px(box[0]), px(box[2])], range=rng, type="date", tickmode="array", tickvals=ticks,
                ticktext=labels, showgrid=False, ticks="outside", ticklen=6, tickwidth=1.4, tickcolor=TICK,
                showline=True, linecolor=FRAME, linewidth=1.8, mirror=True, anchor=anchor, zeroline=False,
                tickfont=dict(family=FONT, size=23, color=INK), fixedrange=True, ticklabelstandoff=0,
                automargin=False)


def yaxis_cfg(box, rng, dtick, anchor):
    return dict(domain=[py(box[3]), py(box[1])], range=list(rng), tick0=rng[0], dtick=dtick, showgrid=True,
                gridcolor=GRID, gridwidth=1.5, ticks="outside", ticklen=7, tickwidth=1.4, tickcolor=TICK,
                showline=True, linecolor=FRAME, linewidth=1.8, mirror=True, anchor=anchor, zeroline=False,
                tickfont=dict(family=FONT, size=23, color=INK), fixedrange=True, ticklabelstandoff=8,
                automargin=False)


fig.update_layout(
    template="none",
    width=W, height=H, margin=dict(l=0, r=0, t=0, b=0, pad=0, autoexpand=False),
    paper_bgcolor="white", plot_bgcolor="rgba(0,0,0,0)", showlegend=False,
    xaxis=xaxis_cfg(P1_BOX, ["2015-09-01", "2020-06-19"], TNC36_XTICKS, TNC36_XLABELS, "y"),
    yaxis=yaxis_cfg(P1_BOX, Y1, 25, "x"),
    xaxis2=xaxis_cfg(P2_BOX, ["2009-01-01", "2021-01-01"], TNC40_XTICKS, TNC40_XLABELS, "y2"),
    yaxis2=yaxis_cfg(P2_BOX, Y2, 25, "x2"),
    xaxis3=xaxis_cfg(P3_BOX, ["2010-07-01", "2020-06-16"], TNC43_XTICKS, TNC43_XLABELS, "y3"),
    yaxis3=yaxis_cfg(P3_BOX, Y3, 10, "x3"),
    xaxis4=dict(domain=[0, 1], range=[0, W], visible=False, anchor="y4", fixedrange=True, automargin=False),
    yaxis4=dict(domain=[0, 1], range=[H, 0], visible=False, anchor="x4", fixedrange=True, automargin=False),
    annotations=annotations, shapes=shapes,
)

fig.write_html("out.html")
